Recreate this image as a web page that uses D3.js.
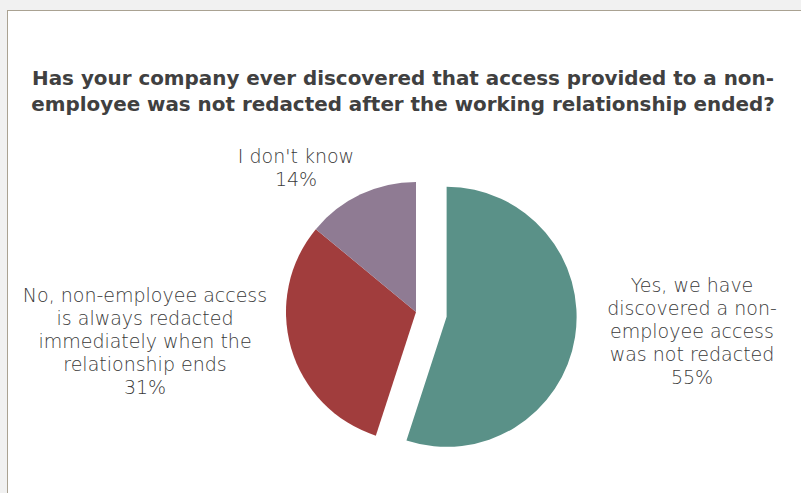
<!DOCTYPE html>
<html>
<head>
<meta charset="utf-8">
<title>Non-employee access pie</title>
<style>
  html, body { margin: 0; padding: 0; background: #f1f1f1; overflow: hidden; }
  svg { display: block; }
</style>
<script src="https://d3js.org/d3.v7.min.js"></script>
</head>
<body>
<script>
  var categories = ["Yes, we have discovered a non-employee access was not redacted",
                    "No, non-employee access is always redacted immediately when the relationship ends",
                    "I don't know"];
  var values = [55, 31, 14];
  var labelLines = [
    ["Yes, we have", "discovered a non-", "employee access", "was not redacted", "55%"],
    ["No, non-employee access", "is always redacted", "immediately when the", "relationship ends", "31%"],
    ["I don't know", "14%"]
  ];
  var colors = ["#5a9188", "#a13d3d", "#8f7b93"];
  var titleLines = ["Has your company ever discovered that access provided to a non-",
                    "employee was not redacted after the working relationship ended?"];

  var w = 801, h = 493;
  var cx = 416, cy = 312, r = 130, explode = 31;

  var svg = d3.select("body").append("svg").attr("width", w).attr("height", h);

  // chart frame
  svg.append("rect").attr("x", 7.5).attr("y", 10.5).attr("width", w).attr("height", h)
     .attr("fill", "#fff").attr("stroke", "#aaa292").attr("stroke-width", 1);

  svg.append("g").selectAll("text").data(titleLines).enter().append("text")
     .attr("x", 403).attr("y", function (d, i) { return 85 + i * 26; })
     .attr("text-anchor", "middle")
     .attr("font-family", "'Century Gothic', 'DejaVu Sans', sans-serif")
     .attr("font-weight", "bold").attr("font-size", 19.9).attr("fill", "#404040")
     .text(function (d) { return d; });

  var pie = d3.pie().sort(null).value(function (d) { return d; });
  var arc = d3.arc().innerRadius(0).outerRadius(r);
  var arcs = pie(values);

  var g = svg.append("g").attr("transform", "translate(" + cx + "," + cy + ")");
  g.selectAll("path").data(arcs).enter().append("path")
   .attr("d", arc)
   .attr("fill", function (d, i) { return colors[i]; })
   .attr("transform", function (d, i) {
     if (i !== 0) return null;
     var a = (d.startAngle + d.endAngle) / 2;
     return "translate(" + (Math.sin(a) * explode) + "," + (-Math.cos(a) * explode) + ")";
   })
   .append("title").text(function (d, i) { return categories[i] + ": " + d.value + "%"; });

  // label anchors (centre x, first baseline)
  var labelPos = [[692, 292], [145, 302], [296, 163]];
  var lh = 23;
  labelLines.forEach(function (lines, i) {
    svg.append("g").selectAll("text").data(lines).enter().append("text")
       .attr("x", labelPos[i][0])
       .attr("y", function (d, j) { return labelPos[i][1] + j * lh; })
       .attr("text-anchor", "middle")
       .attr("font-family", "'Century Gothic', 'DejaVu Sans', sans-serif")
       .attr("font-weight", 300).attr("font-size", 19).attr("fill", "#3a3a3a")
       .text(function (d) { return d; });
  });
</script>
</body>
</html>
